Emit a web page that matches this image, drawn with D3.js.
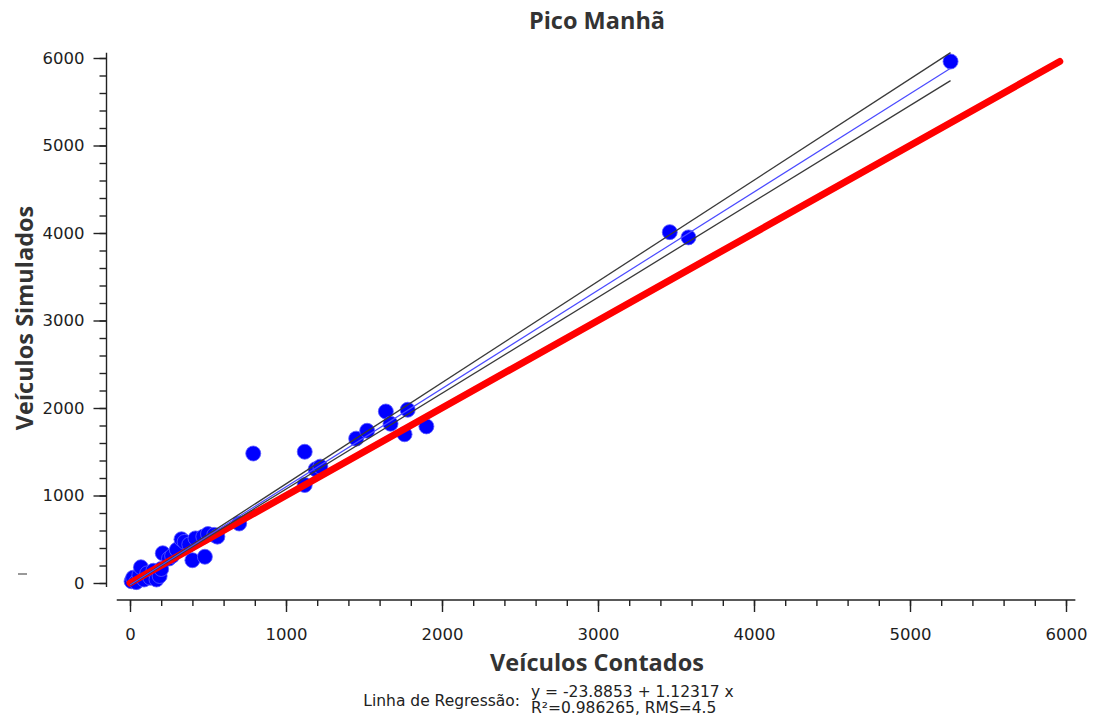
<!DOCTYPE html>
<html>
<head>
<meta charset="utf-8">
<script src="https://cdn.jsdelivr.net/npm/d3@7"></script>
<style>
  body { margin: 0; background: #fff; }
  .tick text { font-family: "DejaVu Sans", sans-serif; font-size: 16.5px; fill: #1e1e1e; }
  .tick line { stroke: #222; stroke-width: 1.4; }
  .axisLine { stroke: #222; stroke-width: 1.4; }
  .title, .axisTitle { font-family: "Open Sans", sans-serif; font-weight: bold; fill: #333; }
  .note { font-family: "DejaVu Sans", sans-serif; fill: #222; }
</style>
</head>
<body>
<div id="chart"></div>
<script>
var width = 1093, height = 727;

// counted vs simulated vehicles
var counted   = [10, 20, 40, 60, 70, 90, 110, 130, 150, 170, 190, 200, 210, 250, 270, 300, 330, 350, 380, 400, 420, 470, 480, 500, 540, 560, 700, 790, 1120, 1120, 1190, 1220, 1450, 1520, 1640, 1670, 1760, 1780, 1900, 3460, 3580, 5260];
var simulated = [20, 60, 10, 90, 180, 40, 110, 60, 140, 40, 80, 160, 340, 280, 310, 380, 500, 470, 440, 260, 510, 530, 300, 560, 550, 530, 680, 1480, 1500, 1120, 1300, 1330, 1650, 1740, 1960, 1820, 1700, 1980, 1790, 4010, 3950, 5960];

// regression and band lines (intercept, slope)
var regression = [-23.8853, 1.12317];
var upperBand = [-23.8853, 1.157];
var lowerBand = [-23.8853, 1.096];
var identityMax = 5960;

var xTicks = [0, 1000, 2000, 3000, 4000, 5000, 6000];
var yTicks = [0, 1000, 2000, 3000, 4000, 5000, 6000];
var minorTicks = d3.range(0, 6001, 200);

var svg = d3.select("#chart").append("svg")
    .attr("width", width)
    .attr("height", height);

var x = d3.scaleLinear().domain([0, 6000]).range([130, 1066]);
var y = d3.scaleLinear().domain([0, 6000]).range([583, 58]);

var xAxisY = 600, yAxisX = 106.5;

// x axis
svg.append("line").attr("class", "axisLine")
    .attr("x1", x(-85)).attr("x2", x(6060))
    .attr("y1", xAxisY).attr("y2", xAxisY);

svg.append("g")
    .attr("transform", `translate(0, ${xAxisY})`)
    .call(d3.axisBottom(x).tickValues(minorTicks).tickSize(6).tickFormat(""))
    .call(g => g.select(".domain").remove());

svg.append("g")
    .attr("transform", `translate(0, ${xAxisY})`)
    .call(d3.axisBottom(x).tickValues(xTicks).tickSize(12).tickPadding(16).tickFormat(d3.format("d")))
    .call(g => g.select(".domain").remove());

// y axis
svg.append("line").attr("class", "axisLine")
    .attr("x1", yAxisX).attr("x2", yAxisX)
    .attr("y1", y(6060)).attr("y2", y(-45));

svg.append("g")
    .attr("transform", `translate(${yAxisX}, 0)`)
    .call(d3.axisLeft(y).tickValues(minorTicks).tickSize(7).tickFormat(""))
    .call(g => g.select(".domain").remove());

svg.append("g")
    .attr("transform", `translate(${yAxisX}, 0)`)
    .call(d3.axisLeft(y).tickValues(yTicks).tickSize(13).tickPadding(9).tickFormat(d3.format("d")))
    .call(g => g.select(".domain").remove());

// points
var data = counted.map((c, i) => ({x: c, y: simulated[i]}));

svg.selectAll("circle.pt")
    .data(data)
    .enter()
    .append("circle")
    .attr("class", "pt")
    .attr("cx", d => x(d.x))
    .attr("cy", d => y(d.y))
    .attr("r", 7.5)
    .style("fill", "#0000ff")
    .style("stroke", "#5a5aff")
    .style("stroke-width", 0.8);

// y = x reference
svg.append("line")
    .attr("x1", x(0)).attr("y1", y(0))
    .attr("x2", x(identityMax)).attr("y2", y(identityMax))
    .style("stroke", "#ff0000")
    .style("stroke-width", 7)
    .style("stroke-linecap", "round");

var xMax = d3.max(counted);
function fitLine(coef, color, w) {
    svg.append("line")
        .attr("x1", x(0)).attr("y1", y(coef[0]))
        .attr("x2", x(xMax)).attr("y2", y(coef[0] + coef[1] * xMax))
        .style("stroke", color)
        .style("stroke-width", w);
}
fitLine(upperBand, "#3a3a3a", 1.3);
fitLine(lowerBand, "#3a3a3a", 1.3);
fitLine(regression, "#4a4aff", 1.2);

// stray dash on the left
svg.append("line")
    .attr("x1", 18).attr("x2", 27)
    .attr("y1", 574).attr("y2", 574)
    .style("stroke", "#777").style("stroke-width", 1.5);

// titles
svg.append("text").attr("class", "title")
    .attr("x", 597).attr("y", 29)
    .attr("text-anchor", "middle")
    .style("font-size", "23.5px")
    .text("Pico Manhã");

svg.append("text").attr("class", "axisTitle")
    .attr("x", 597).attr("y", 671)
    .attr("text-anchor", "middle")
    .style("font-size", "23.5px")
    .text("Veículos Contados");

svg.append("text").attr("class", "axisTitle")
    .attr("transform", "translate(33, 318) rotate(-90)")
    .attr("text-anchor", "middle")
    .style("font-size", "23.5px")
    .text("Veículos Simulados");

// regression note
svg.append("text").attr("class", "note")
    .attr("x", 520).attr("y", 706)
    .attr("text-anchor", "end")
    .style("font-size", "15.5px")
    .text("Linha de Regressão:");

svg.append("text").attr("class", "note")
    .attr("x", 531).attr("y", 697)
    .style("font-size", "15.5px")
    .text("y = -23.8853 + 1.12317 x");

svg.append("text").attr("class", "note")
    .attr("x", 531).attr("y", 713)
    .style("font-size", "15.5px")
    .text("R²=0.986265, RMS=4.5");
</script>
</body>
</html>
